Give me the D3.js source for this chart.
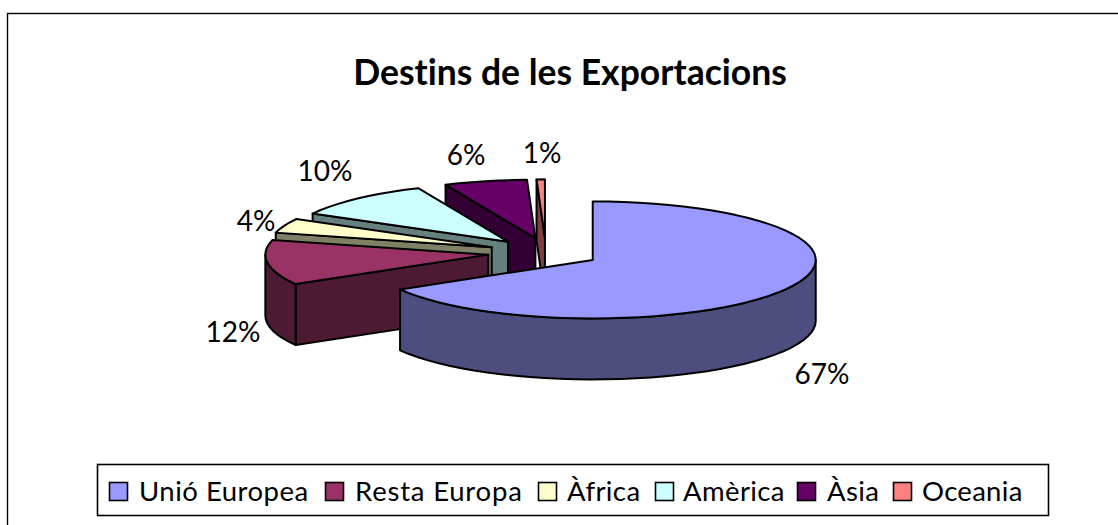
<!DOCTYPE html>
<html><head><meta charset="utf-8">
<script src="https://cdn.jsdelivr.net/npm/d3@7"></script>
<style>html,body{margin:0;padding:0;background:#fff}svg{display:block}text{font-family:Lato,"Open Sans",sans-serif;fill:#000;font-variant-ligatures:none}</style>
</head><body><svg id="c" width="1118" height="525"></svg>
<script>
const categories = ["Unió Europea","Resta Europa","Àfrica","Amèrica","Àsia","Oceania"];
const values = [66.6,12.4,4,10.4,6,0.6];
const topColors = ["#9999FF","#993366","#FFFFCC","#CCFFFF","#660066","#FF8080"];
const sideColors = ["#4D4D80","#4D1A33","#808066","#668080","#330033","#804040"];
const title = "Destins de les Exportacions";

const svg = d3.select("#c");
const cx=544, cy=252.6, rx=223, ry=58.5, depth=61, explode=0.252;
const nudge=[0,0,0,2,4,2];
const labelPos=[[822,374],[233,332],[256,221],[325,171],[466,155],[542,153]];
const legX=[109,325,538,655,797,893];
const legTextX=[139,355,567,683,827,922];
const legSpacing=[0.5,0.8,0.4,0.4,0.4,0.3];

svg.append("rect").attr("x",7.5).attr("y",13.5).attr("width",1120).attr("height",520)
  .attr("fill","#fff").attr("stroke","#000").attr("stroke-width",1.4);
svg.append("text").attr("x",570).attr("y",85).attr("text-anchor","middle")
  .attr("font-size",35.5).attr("font-weight",700).text(title);

const arcs=d3.pie().sort(null).value(d=>d)(values);
const pt=(c,a,dy=0)=>[c[0]+Math.sin(a)*rx,c[1]-Math.cos(a)*ry+dy];
const arcPts=(c,a0,a1,dy=0)=>{
  const n=Math.max(1,Math.ceil((a1-a0)/(Math.PI/45)));
  return d3.range(n+1).map(i=>pt(c,a0+(a1-a0)*i/n,dy));
};
const line=d3.line();
const slices=arcs.map((a,i)=>{
  const mid=(a.startAngle+a.endAngle)/2;
  const c=[cx+explode*rx*Math.sin(mid)+nudge[i],cy-explode*ry*Math.cos(mid)];
  return {i,a,c};
});
// painter's order: back to front
const order=[5,4,3,2,1,0];
order.forEach(k=>{
  const {i,a,c}=slices[k];
  const g=svg.append("g").attr("stroke","#000").attr("stroke-width",2).attr("stroke-linejoin","round");
  const side=sideColors[i];
  const cut=ang=>{
    const p=pt(c,ang);
    g.append("path").attr("fill",side).attr("d",line([c,p,[p[0],p[1]+depth],[c[0],c[1]+depth]])+"Z");
  };
  if(Math.sin(a.startAngle)<-1e-6) cut(a.startAngle);
  if(Math.sin(a.endAngle)>1e-6) cut(a.endAngle);
  const w0=Math.max(a.startAngle,Math.PI/2), w1=Math.min(a.endAngle,3*Math.PI/2);
  if(w1>w0){
    const u=arcPts(c,w0,w1), l=arcPts(c,w0,w1,depth).reverse();
    g.append("path").attr("fill",side).attr("d",line(u.concat(l))+"Z");
  }
  g.append("path").attr("fill",topColors[i])
    .attr("d",line([c].concat(arcPts(c,a.startAngle,a.endAngle)))+"Z");
});

values.forEach((v,i)=>{
  svg.append("text").attr("x",labelPos[i][0]).attr("y",labelPos[i][1]+10)
    .attr("text-anchor","middle").attr("font-size",28).text(Math.round(v)+"%");
});

// legend
svg.append("rect").attr("x",97.5).attr("y",464.5).attr("width",951).attr("height",51)
  .attr("fill","#fff").attr("stroke","#000").attr("stroke-width",1.6);
categories.forEach((t,i)=>{
  svg.append("rect").attr("x",legX[i]+.5).attr("y",482.5).attr("width",18).attr("height",18)
    .attr("fill",topColors[i]).attr("stroke","#000").attr("stroke-width",1.6);
  svg.append("text").attr("x",legTextX[i]).attr("y",501).attr("font-size",27.5)
    .attr("letter-spacing",legSpacing[i]).text(t);
});
</script></body></html>
